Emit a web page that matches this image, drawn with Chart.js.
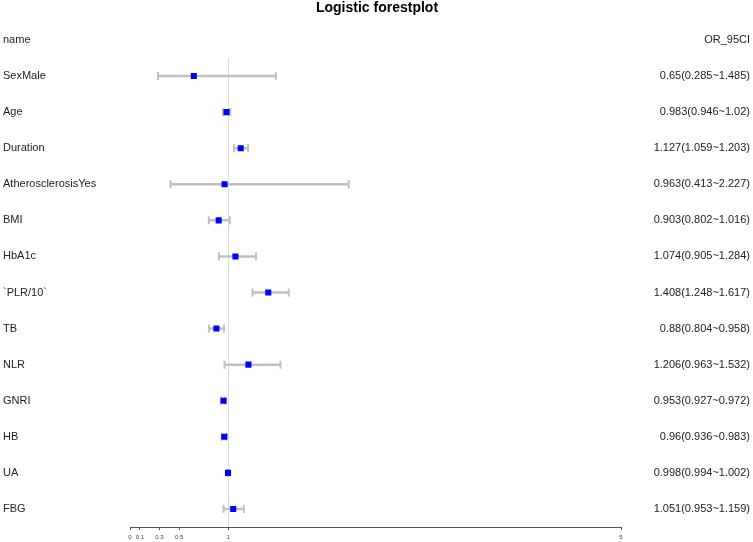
<!DOCTYPE html>
<html>
<head>
<meta charset="utf-8">
<script src="https://cdn.jsdelivr.net/npm/chart.js@4"></script>
<style>
  html, body { margin: 0; padding: 0; background: #fff; }
  #wrap { width: 753px; height: 542px; }
</style>
</head>
<body>
<div id="wrap"><canvas id="forest"></canvas></div>
<script>
// variables, top to bottom
const names = ["SexMale", "Age", "Duration", "AtherosclerosisYes", "BMI", "HbA1c", "`PLR/10`", "TB", "NLR", "GNRI", "HB", "UA", "FBG"];
const oddsRatio = [0.65, 0.983, 1.127, 0.963, 0.903, 1.074, 1.408, 0.88, 1.206, 0.953, 0.96, 0.998, 1.051];
const lowerCI = [0.285, 0.946, 1.059, 0.413, 0.802, 0.905, 1.248, 0.804, 0.963, 0.927, 0.936, 0.994, 0.953];
const upperCI = [1.485, 1.02, 1.203, 2.227, 1.016, 1.284, 1.617, 0.958, 1.532, 0.972, 0.983, 1.002, 1.159];
const orLabels = ["0.65(0.285~1.485)", "0.983(0.946~1.02)", "1.127(1.059~1.203)", "0.963(0.413~2.227)", "0.903(0.802~1.016)", "1.074(0.905~1.284)", "1.408(1.248~1.617)", "0.88(0.804~0.958)", "1.206(0.963~1.532)", "0.953(0.927~0.972)", "0.96(0.936~0.983)", "0.998(0.994~1.002)", "1.051(0.953~1.159)"];
const xTicks = [0, 0.1, 0.3, 0.5, 1, 5];

const FONT = "'Liberation Sans', Arial, sans-serif";

// CI segments in one dataset, broken by gaps
const ciData = [];
names.forEach((n, i) => {
  ciData.push({ x: lowerCI[i], y: n });
  ciData.push({ x: upperCI[i], y: n });
  ciData.push({ x: null, y: n });
});

// title + column headers
const headerPlugin = {
  id: "header",
  afterDraw(chart) {
    const ctx = chart.ctx;
    ctx.save();
    ctx.fillStyle = "#000";
    ctx.textBaseline = "middle";
    ctx.font = "bold 14px " + FONT;
    ctx.textAlign = "center";
    ctx.fillText("Logistic forestplot", 377, 8.5);
    ctx.font = "11px " + FONT;
    ctx.fillStyle = "#222";
    ctx.textAlign = "left";
    ctx.fillText("name", 3, 40);
    ctx.textAlign = "right";
    ctx.fillText("OR_95CI", 750, 40);
    ctx.restore();
  },
};

const ctx = document.getElementById("forest").getContext("2d");
new Chart(ctx, {
  type: "scatter",
  data: {
    datasets: [
      {
        label: "OR",
        data: names.map((n, i) => ({ x: oddsRatio[i], y: n })),
        backgroundColor: "#0000ff",
        borderWidth: 0,
        pointStyle: "rect",
        pointRadius: 4.3,
        yAxisID: "y",
      },
      {
        label: "95% CI",
        type: "line",
        data: ciData,
        borderColor: "#c0c0c0",
        borderWidth: 2.5,
        spanGaps: false,
        pointStyle: "line",
        pointRotation: 90,
        pointRadius: 4,
        pointBorderWidth: 2,
        pointBorderColor: "#c0c0c0",
        yAxisID: "y",
      },
    ],
  },
  options: {
    responsive: true,
    maintainAspectRatio: false,
    animation: false,
    events: [],
    layout: { padding: { left: 3, right: 3, top: 58, bottom: 0 } },
    plugins: {
      legend: { display: false },
      tooltip: { enabled: false },
    },
    scales: {
      x: {
        type: "linear",
        min: 0,
        max: 5,
        afterBuildTicks: (scale) => {
          scale.ticks = xTicks.map((v) => ({ value: v }));
        },
        afterFit: (scale) => {
          scale.height = 15;
        },
        ticks: {
          autoSkip: false,
          maxRotation: 0,
          padding: 4,
          color: "#444",
          font: { family: FONT, size: 6 },
          callback: (v) => String(v),
        },
        grid: {
          color: (c) => (c.tick && c.tick.value === 1 ? "#dcdcdc" : "rgba(0,0,0,0)"),
          tickColor: "#555",
          tickLength: 3,
          lineWidth: 1,
        },
        border: { color: "#555", width: 1 },
      },
      y: {
        type: "category",
        labels: names,
        position: "left",
        offset: true,
        afterFit: (scale) => {
          scale.width = 127;
        },
        ticks: {
          crossAlign: "far",
          color: "#222",
          font: { family: FONT, size: 11 },
        },
        grid: { display: false },
        border: { display: false },
      },
      y2: {
        type: "category",
        labels: orLabels,
        position: "right",
        offset: true,
        afterFit: (scale) => {
          scale.width = 129;
        },
        ticks: {
          crossAlign: "far",
          color: "#222",
          font: { family: FONT, size: 11 },
        },
        grid: { display: false },
        border: { display: false },
      },
    },
  },
  plugins: [headerPlugin],
});
</script>
</body>
</html>
